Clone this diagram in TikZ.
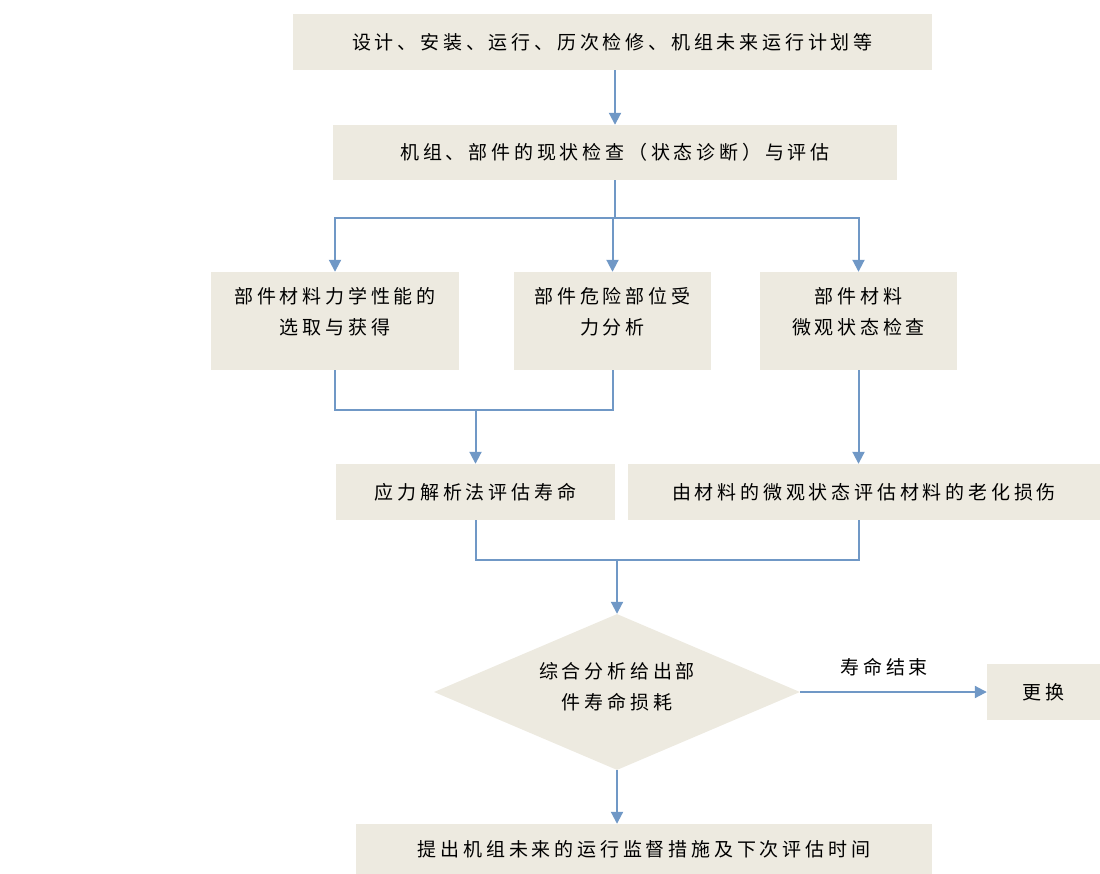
\documentclass[tikz,border=0pt]{standalone}
\usepackage{fontspec}
\newfontfamily\cjk[LetterSpace=20]{Noto Sans CJK SC}
\usetikzlibrary{calc,shapes.geometric,arrows.meta,positioning}
\definecolor{boxfill}{RGB}{237,234,224}
\definecolor{flowblue}{RGB}{112,152,198}
\tikzset{
block/.style={
  rectangle,
  fill=boxfill,
  text centered,
  align=center,
  inner sep=0pt,
  font=\cjk\fontsize{19}{31}\selectfont},
twoline/.style={text depth=20pt},
decision/.style={
  diamond,
  fill=boxfill,
  aspect=2.35,
  inner sep=0pt,
  align=center,
  text depth=12pt,
  minimum width=366pt,
  minimum height=156pt,
  font=\cjk\fontsize{19}{31}\selectfont},
line/.style={draw=flowblue, line width=2pt, -{Triangle[width=12pt,length=12pt]}},
edge/.style={draw=flowblue, line width=2pt}
}
\begin{document}
\begin{tikzpicture}[x=1pt,y=-1pt]
    \useasboundingbox (0,0) rectangle (1100,874);
    \node [block, minimum width=639pt, minimum height=56pt] (design) at (612.5,42) {设计、安装、运行、历次检修、机组未来运行计划等};
    \node [block, minimum width=564pt, minimum height=55pt] (check) at (615,152.5) {机组、部件的现状检查（状态诊断）与评估};
    \node [block, twoline, minimum width=248pt, minimum height=98pt] (props) at (335,321) {部件材料力学性能的\\选取与获得};
    \node [block, twoline, minimum width=197pt, minimum height=98pt] (stress) at (612.5,321) {部件危险部位受\\力分析};
    \node [block, twoline, minimum width=197pt, minimum height=98pt] (micro) at (858.5,321) {部件材料\\微观状态检查};
    \node [block, minimum width=279pt, minimum height=56pt] (analytic) at (475.5,492) {应力解析法评估寿命};
    \node [block, minimum width=472pt, minimum height=56pt] (aging) at (864,492) {由材料的微观状态评估材料的老化损伤};
    \node [decision] (overall) at (617,692) {综合分析给出部\\件寿命损耗};
    \node [block, minimum width=113pt, minimum height=56pt] (replace) at (1043.5,692) {更换};
    \node [block, minimum width=576pt, minimum height=50pt] (plan) at (644,849) {提出机组未来的运行监督措施及下次评估时间};
    % helper points for the forks and joins
    \coordinate (fork) at (check.south |- 0,218);
    \coordinate (joinA) at (analytic.north |- 0,410);
    \coordinate (joinB) at (overall.north |- 0,560);
    \path [line] (design.south -| check) -- (check.north);
    \path [edge] (check.south) -- (fork);
    \path [line] (fork) -| (props.north);
    \path [line] (stress.north |- fork) -- (stress.north);
    \path [line] (fork) -| (micro.north);
    \path [edge] (props.south) |- (stress.south |- joinA) -- (stress.south);
    \path [line] (joinA) -- (analytic.north);
    \path [line] (micro.south) -- (micro.south |- aging.north);
    \path [edge] (analytic.south) |- (micro.south |- joinB) -- (micro.south |- aging.south);
    \path [line] (joinB) -- (overall.north);
    \path [line] (overall.east) -- node [pos=0.45, above=12pt, font=\cjk\fontsize{19}{31}\selectfont] (endlife) {寿命结束} (replace.west);
    \path [line] (overall.south) -- (overall.south |- plan.north);
\end{tikzpicture}
\end{document}
